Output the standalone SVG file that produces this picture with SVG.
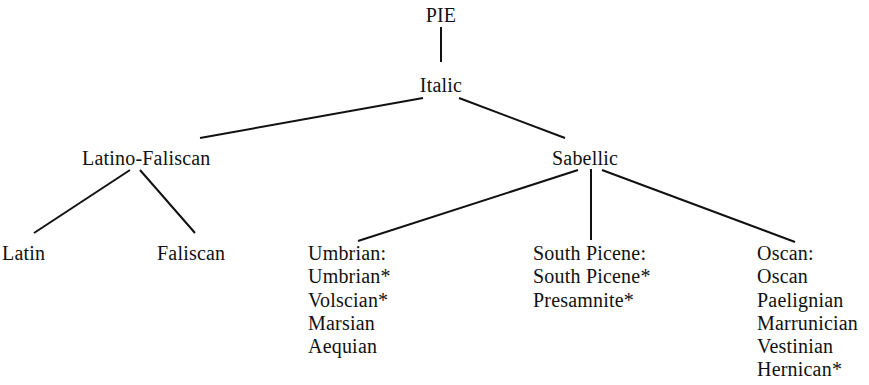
<svg xmlns="http://www.w3.org/2000/svg" width="869" height="385" viewBox="0 0 869 385">
<style>
text{font-family:"Liberation Serif","Times New Roman",serif;font-size:20px;letter-spacing:0.2px;fill:#111;}
.c{text-anchor:middle;}
line{stroke:#111;stroke-width:2;}
</style>
<rect width="869" height="385" fill="#fff"/>
<g id="connectors">
<line x1="441" y1="27" x2="441" y2="62"/>
<line x1="423" y1="98" x2="200" y2="138"/>
<line x1="459" y1="98" x2="565" y2="138"/>
<line x1="130" y1="170" x2="34" y2="233"/>
<line x1="140" y1="170" x2="195" y2="233"/>
<line x1="578" y1="170" x2="358" y2="241"/>
<line x1="591" y1="169" x2="591" y2="240"/>
<line x1="602" y1="170" x2="795" y2="242"/>
</g>
<g id="pie"><text class="c" x="441" y="22">PIE</text></g>
<g id="italic"><text class="c" x="441" y="92">Italic</text></g>
<g id="latino-faliscan"><text x="82" y="165">Latino-Faliscan</text></g>
<g id="sabellic"><text x="552" y="165">Sabellic</text></g>
<g id="latin"><text x="2" y="260">Latin</text></g>
<g id="faliscan"><text x="157" y="260">Faliscan</text></g>
<g id="umbrian">
<text x="308" y="260">Umbrian:</text>
<text x="308" y="283">Umbrian*</text>
<text x="308" y="307">Volscian*</text>
<text x="308" y="330">Marsian</text>
<text x="308" y="353">Aequian</text>
</g>
<g id="south-picene">
<text x="533" y="260">South Picene:</text>
<text x="533" y="283">South Picene*</text>
<text x="533" y="307">Presamnite*</text>
</g>
<g id="oscan">
<text x="757" y="260">Oscan:</text>
<text x="757" y="283">Oscan</text>
<text x="757" y="307">Paelignian</text>
<text x="757" y="330">Marrunician</text>
<text x="757" y="353">Vestinian</text>
<text x="757" y="376">Hernican*</text>
</g>
</svg>
